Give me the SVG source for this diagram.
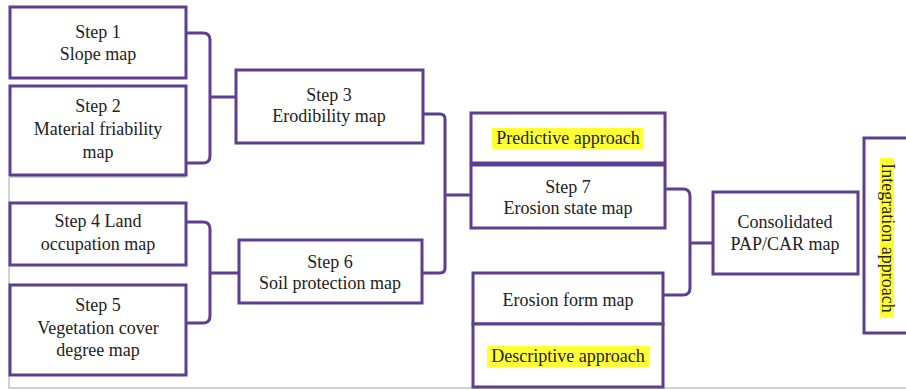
<svg xmlns="http://www.w3.org/2000/svg" width="906" height="390" viewBox="0 0 906 390">
<style>
.box{fill:#fff;stroke:#5e3f8f;stroke-width:3}
.con{fill:none;stroke:#5e3f8f;stroke-width:3}
.t{font-family:"Liberation Serif","Times New Roman",serif;font-size:18px;fill:#222;text-anchor:middle}
.hl{fill:#ffff33}
.frame{fill:none;stroke:#c4c4c4;stroke-width:1.5}
</style>
<rect width="906" height="390" fill="#fff"/>
<path class="frame" d="M10,177 H186 M9,177 V388 H906"/>
<g id="connectors">
<path class="con" d="M186,33 H203 Q210,33 210,40 V156 Q210,163 203,163 H186 M210,97 H236"/>
<path class="con" d="M186,222 H203 Q210,222 210,229 V316 Q210,323 203,323 H186 M210,273 H239"/>
<path class="con" d="M423,114 H440 Q445,114 445,119 V268 Q445,273 440,273 H422 M445,195 H471"/>
<path class="con" d="M665,189 H683 Q690,189 690,196 V288 Q690,295 683,295 H663 M690,243 H713"/>
</g>
<g id="step1"><rect class="box" x="10" y="7" width="176" height="71"/>
<text class="t" x="98" y="38">Step 1</text><text class="t" x="98" y="60">Slope map</text></g>
<g id="step2"><rect class="box" x="10" y="86" width="176" height="89"/>
<text class="t" x="98" y="112">Step 2</text><text class="t" x="98" y="135">Material friability</text><text class="t" x="98" y="158">map</text></g>
<g id="step3"><rect class="box" x="236" y="70" width="187" height="73"/>
<text class="t" x="329" y="101">Step 3</text><text class="t" x="329" y="122">Erodibility map</text></g>
<g id="step4"><rect class="box" x="10" y="203" width="176" height="62"/>
<text class="t" x="98" y="227">Step 4 Land</text><text class="t" x="98" y="250">occupation map</text></g>
<g id="step5"><rect class="box" x="10" y="285" width="176" height="90"/>
<text class="t" x="98" y="311">Step 5</text><text class="t" x="98" y="334">Vegetation cover</text><text class="t" x="98" y="356">degree map</text></g>
<g id="step6"><rect class="box" x="239" y="240" width="183" height="63"/>
<text class="t" x="330" y="268">Step 6</text><text class="t" x="330" y="289">Soil protection map</text></g>
<g id="predictive"><rect class="box" x="471" y="113" width="194" height="50"/>
<rect class="hl" x="492" y="128" width="151" height="21"/>
<text class="t" x="568" y="144">Predictive approach</text></g>
<g id="step7"><rect class="box" x="471" y="165" width="194" height="63"/>
<text class="t" x="568" y="193">Step 7</text><text class="t" x="568" y="214">Erosion state map</text></g>
<g id="erosionform"><rect class="box" x="473" y="273" width="190" height="51"/>
<text class="t" x="568" y="306">Erosion form map</text></g>
<g id="descriptive"><rect class="box" x="473" y="324" width="190" height="63"/>
<rect class="hl" x="487" y="346" width="163" height="21"/>
<text class="t" x="568" y="362">Descriptive approach</text></g>
<g id="consolidated"><rect class="box" x="713" y="192" width="145" height="82"/>
<text class="t" x="785" y="228">Consolidated</text><text class="t" x="785" y="250">PAP/CAR map</text></g>
<g id="integration"><rect class="box" x="864" y="138" width="50" height="195"/>
<rect class="hl" x="880" y="158" width="14" height="160"/>
<text class="t" x="0" y="0" font-size="15" transform="translate(882,238) rotate(90)">Integration approach</text></g>
</svg>
